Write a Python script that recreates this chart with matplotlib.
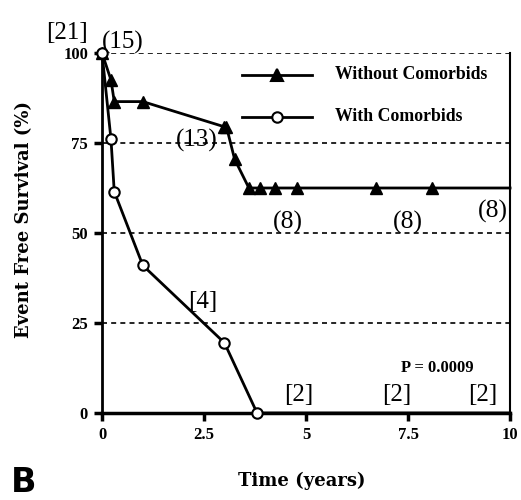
import matplotlib
matplotlib.use("Agg")
import matplotlib.pyplot as plt

# Kaplan-Meier style event free survival
t_without = [0, 0.22, 0.30, 1.0, 3.0, 3.05, 3.25, 3.6, 3.87, 4.24, 4.77, 6.72, 8.08, 10]
s_without = [100, 92.5, 86.5, 86.5, 79.5, 79.5, 70.5, 62.5, 62.5, 62.5, 62.5, 62.5, 62.5, 62.5]
marked_without = [0, 1, 2, 3, 4, 5, 6, 7, 8, 9, 10, 11, 12]

t_with = [0, 0.22, 0.30, 1.0, 3.0, 3.8, 10]
s_with = [100, 76, 61.5, 41, 19.5, 0, 0]
marked_with = [0, 1, 2, 3, 4, 5]

# numbers at risk annotations: (text, x, y, size)
annotations = [
    ("[21]", -0.85, 105.5, 18),
    ("(15)", 0.5, 103, 18),
    ("(13)", 2.33, 75.8, 18),
    ("(8)", 4.55, 53, 18.5),
    ("(8)", 7.49, 53, 18.5),
    ("(8)", 9.57, 55.9, 18.5),
    ("[4]", 2.46, 30.9, 18),
    ("[2]", 4.83, 4.9, 18),
    ("[2]", 7.22, 4.9, 18),
    ("[2]", 9.33, 4.9, 18),
]

xticks = [0, 2.5, 5, 7.5, 10]
xtick_labels = ["0", "2.5", "5", "7.5", "10"]
yticks = [0, 25, 50, 75, 100]

serif = "Liberation Serif"
plt.rcParams["font.family"] = serif

fig = plt.figure(figsize=(5.21, 5.0), dpi=100)
ax = fig.add_axes([0.1958, 0.174, 0.7832, 0.72])

# dashed reference lines
for y in [25, 50, 75, 100]:
    ax.axhline(y, color="black", lw=1.2, ls=(0, (3, 2.5)), zorder=1)

ax.plot(t_without, s_without, color="black", lw=2, zorder=3, clip_on=False)
ax.plot([t_without[i] for i in marked_without], [s_without[i] for i in marked_without],
        ls="none", marker="^", ms=8, color="black", zorder=4, clip_on=False)

ax.plot(t_with, s_with, color="black", lw=2, zorder=3, clip_on=False)
ax.plot([t_with[i] for i in marked_with], [s_with[i] for i in marked_with],
        ls="none", marker="o", ms=7.5, mfc="white", mec="black", mew=1.5,
        zorder=5, clip_on=False)

for txt, x, y, sz in annotations:
    ax.text(x, y, txt, fontsize=sz, ha="center", va="center", clip_on=False)

ax.text(8.22, 12.4, "P = 0.0009", fontsize=12, fontweight="bold",
        ha="center", va="center")

# legend drawn by hand
leg_x = [3.42, 5.14]
for yy, label, mk, fc in [(94, "Without Comorbids", "^", "black"),
                          (82.3, "With Comorbids", "o", "white")]:
    ax.plot(leg_x, [yy, yy], color="black", lw=2)
    ax.plot([4.28], [yy], marker=mk, ms=8 if mk == "^" else 7.5,
            mfc=fc, mec="black", mew=1.5, color="black")
    ax.text(5.71, yy, label, fontsize=12.8, fontweight="bold", va="center", ha="left")

ax.set_xlim(0, 10)
ax.set_ylim(0, 100)
ax.set_xticks(xticks)
ax.set_xticklabels(xtick_labels)
ax.set_yticks(yticks)
ax.tick_params(direction="out", length=6, width=2.5, labelsize=12, pad=4)
for lab in ax.get_xticklabels() + ax.get_yticklabels():
    lab.set_fontweight("bold")

ax.spines["top"].set_visible(False)
ax.spines["left"].set_linewidth(2)
ax.spines["bottom"].set_linewidth(2.5)
ax.spines["right"].set_linewidth(1.5)

fig.text(0.046, 0.56, "Event Free Survival (%)", fontsize=13, fontweight="bold",
         family="DejaVu Serif", rotation=90, ha="center", va="center")
fig.text(0.58, 0.038, "Time (years)", fontsize=13, fontweight="bold",
         family="DejaVu Serif", ha="center", va="center")
fig.text(0.046, 0.036, "B", fontsize=24, fontweight="bold", family="DejaVu Sans",
         ha="center", va="center")

fig.savefig("out.png", dpi=100)
